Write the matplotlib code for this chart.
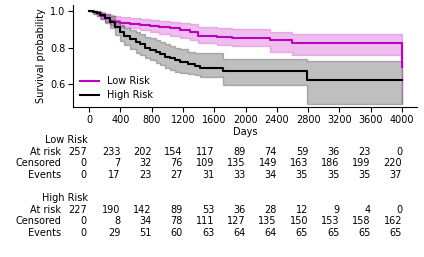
import matplotlib
matplotlib.use("Agg")
import matplotlib.pyplot as plt
import numpy as np

plt.rcParams['font.family'] = ['DejaVu Sans']

# ---- Kaplan-Meier curves ----
low_t = [0, 60, 100, 150, 200, 268, 320, 400, 524, 650, 780, 900, 1035, 1163, 1290, 1397, 1632, 1824, 2313, 2590, 4000]
low_s = [1.0, 0.995, 0.988, 0.975, 0.96, 0.945, 0.94, 0.935, 0.929, 0.924, 0.918, 0.912, 0.905, 0.895, 0.883, 0.865, 0.86, 0.854, 0.841, 0.826, 0.695]
low_hi = [1.0, 1.0, 0.998, 0.992, 0.985, 0.978, 0.972, 0.969, 0.962, 0.955, 0.95, 0.945, 0.94, 0.933, 0.929, 0.915, 0.905, 0.9, 0.883, 0.872, 0.872]
low_lo = [1.0, 0.985, 0.97, 0.955, 0.94, 0.923, 0.918, 0.914, 0.905, 0.895, 0.885, 0.875, 0.863, 0.852, 0.84, 0.825, 0.814, 0.806, 0.777, 0.759, 0.49]

high_t = [0, 50, 100, 140, 200, 268, 330, 396, 450, 524, 600, 652, 720, 780, 850, 907, 970, 1035, 1100, 1163, 1269, 1355, 1418, 1716, 2782, 4000]
high_s = [1.0, 0.996, 0.99, 0.978, 0.962, 0.94, 0.912, 0.885, 0.865, 0.845, 0.83, 0.818, 0.8, 0.786, 0.775, 0.765, 0.75, 0.74, 0.73, 0.722, 0.708, 0.70, 0.69, 0.673, 0.622, 0.622]
high_hi = [1.0, 1.0, 0.998, 0.99, 0.983, 0.972, 0.95, 0.925, 0.908, 0.895, 0.883, 0.872, 0.86, 0.85, 0.84, 0.83, 0.82, 0.81, 0.8, 0.79, 0.778, 0.772, 0.768, 0.735, 0.724, 0.724]
high_lo = [1.0, 0.985, 0.975, 0.955, 0.932, 0.905, 0.868, 0.835, 0.812, 0.792, 0.772, 0.757, 0.745, 0.73, 0.715, 0.704, 0.69, 0.677, 0.668, 0.662, 0.655, 0.648, 0.64, 0.594, 0.489, 0.489]

# ---- At-risk table ----
ticks = [0, 400, 800, 1200, 1600, 2000, 2400, 2800, 3200, 3600, 4000]
low_at_risk = [257, 233, 202, 154, 117, 89, 74, 59, 36, 23, 0]
low_censored = [0, 7, 32, 76, 109, 135, 149, 163, 186, 199, 220]
low_events = [0, 17, 23, 27, 31, 33, 34, 35, 35, 35, 37]
high_at_risk = [227, 190, 142, 89, 53, 36, 28, 12, 9, 4, 0]
high_censored = [0, 8, 34, 78, 111, 127, 135, 150, 153, 158, 162]
high_events = [0, 29, 51, 60, 63, 64, 64, 65, 65, 65, 65]

W, H = 424, 257
fig = plt.figure(figsize=(W / 100, H / 100), dpi=100)
ax = fig.add_axes([73 / W, 1 - 107 / H, (417 - 73) / W, (107 - 5) / H])

for t, s, hi, lo, c, lab in [(low_t, low_s, low_hi, low_lo, 'm', 'Low Risk'),
                             (high_t, high_s, high_hi, high_lo, 'k', 'High Risk')]:
    ax.fill_between(t, lo, hi, step='post', color=c, alpha=0.25, linewidth=1.0)
    ax.plot(t, s, drawstyle='steps-post', color=c, lw=1.5, label=lab)

ax.set_xlim(-204, 4190)
ax.set_ylim(0.474, 1.033)
ax.set_xticks(ticks)
ax.set_yticks([0.6, 0.8, 1.0])
ax.tick_params(labelsize=7, length=3.5, width=0.8, pad=2)
for sp in ['top', 'right']:
    ax.spines[sp].set_visible(False)
ax.set_xlabel('Days', fontsize=7, labelpad=2)
ax.set_ylabel('Survival probability', fontsize=7, labelpad=3)
ax.legend(loc='lower left', frameon=False, fontsize=7, handlelength=2.0,
          borderaxespad=0.3, handletextpad=0.8, labelspacing=0.4)

# ---- table text ----
def px_x(t):
    return ax.transData.transform((t, 0))[0] / W

def put(txt, xfig, ypx, ha='right'):
    fig.text(xfig, 1 - ypx / H, txt, ha=ha, va='center', fontsize=7)

label_x = 61 / W
blocks = [('Low Risk', 140, low_at_risk, low_censored, low_events),
          ('High Risk', 198, high_at_risk, high_censored, high_events)]
for name, y0, ar, ce, ev in blocks:
    put(name, 88 / W, y0)
    for j, (rlab, vals) in enumerate([('At risk', ar), ('Censored', ce), ('Events', ev)]):
        y = y0 + 11.6 * (j + 1)
        put(rlab, label_x, y)
        for t, v in zip(ticks, vals):
            xr = px_x(t) - (2 / W if t == 0 else 0)
            put(str(v), xr, y)

fig.savefig('out.png', dpi=100)
